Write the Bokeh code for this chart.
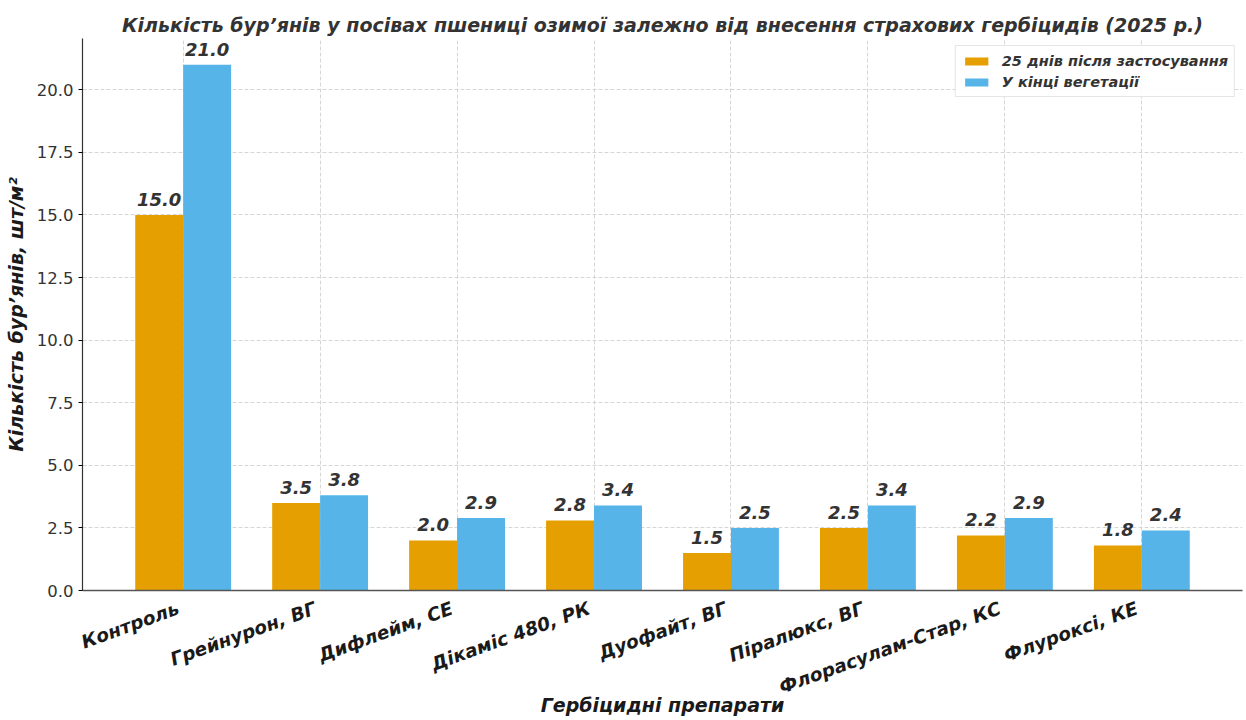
from bokeh.plotting import figure
from bokeh.models import ColumnDataSource, Range1d, FixedTicker, Legend, LegendItem, LabelSet
from bokeh.embed import file_html
from bokeh.resources import INLINE
from bokeh.core.properties import value

categories = ["Контроль", "Грейнурон, ВГ", "Дифлейм, СЕ", "Дікаміс 480, РК",
              "Дуофайт, ВГ", "Піралюкс, ВГ", "Флорасулам-Стар, КС", "Флуроксі, КЕ"]
after_25_days = [15.0, 3.5, 2.0, 2.8, 1.5, 2.5, 2.2, 1.8]
end_of_vegetation = [21.0, 3.8, 2.9, 3.4, 2.5, 3.4, 2.9, 2.4]
series_names = ["25 днів після застосування", "У кінці вегетації"]
y_ticks = [0, 2.5, 5, 7.5, 10, 12.5, 15, 17.5, 20]

FONT = "DejaVu Sans"
W = 0.35
idx = list(range(len(categories)))

src1 = ColumnDataSource(dict(x=[i - W / 2 for i in idx], top=after_25_days,
                             lab=[f"{v:.1f}" for v in after_25_days]))
src2 = ColumnDataSource(dict(x=[i + W / 2 for i in idx], top=end_of_vegetation,
                             lab=[f"{v:.1f}" for v in end_of_vegetation]))

p = figure(width=1246, height=720, output_backend="svg", toolbar_location=None,
           x_range=Range1d(-0.735, 7.735), y_range=Range1d(0, 22.05),
           min_border_left=82, min_border_right=4, min_border_top=38, min_border_bottom=130)

p.title.text = "Кількість бур’янів у посівах пшениці озимої залежно від внесення страхових гербіцидів (2025 р.)"
p.title.text_font = FONT
p.title.text_font_size = "19px"
p.title.text_font_style = "bold italic"
p.title.text_color = "#333333"
p.title.align = "center"
p.title.standoff = 6

r1 = p.vbar(x="x", top="top", width=W, source=src1, fill_color="#E69F00", line_color=None)
r2 = p.vbar(x="x", top="top", width=W, source=src2, fill_color="#56B4E9", line_color=None)

for s in (src1, src2):
    p.add_layout(LabelSet(x="x", y="top", text="lab", source=s, text_align="center",
                          text_baseline="bottom", y_offset=9, text_font=value(FONT),
                          text_font_size="18px", text_font_style="bold italic",
                          text_color="#333333"))

# label anchors shifted slightly left so the rotated text ends at the group centre
label_pos = [round(i - 0.035, 3) for i in idx]
p.xaxis.ticker = FixedTicker(ticks=label_pos)
p.xaxis.major_label_overrides = {pos: c for pos, c in zip(label_pos, categories)}
p.xaxis.major_label_orientation = 0.349
p.xaxis.major_label_standoff = 11
p.xaxis.major_label_text_font = FONT
p.xaxis.major_label_text_font_size = "18.5px"
p.xaxis.major_label_text_font_style = "bold italic"
p.xaxis.major_label_text_color = "#1a1a1a"
p.xaxis.axis_label = "Гербіцидні препарати"
p.xaxis.axis_label_text_font = FONT
p.xaxis.axis_label_text_font_size = "19px"
p.xaxis.axis_label_text_font_style = "bold italic"
p.xaxis.axis_label_text_color = "#1a1a1a"
p.xaxis.axis_label_standoff = -16
p.xaxis.major_tick_line_color = None
p.xaxis.minor_tick_line_color = None
p.xaxis.axis_line_color = "#555555"
p.xaxis.axis_line_width = 1.5

p.yaxis.ticker = FixedTicker(ticks=y_ticks)
p.yaxis.major_label_overrides = {t: f"{t:.1f}" for t in y_ticks}
p.yaxis.major_label_text_font = FONT
p.yaxis.major_label_text_font_size = "16.5px"
p.yaxis.major_label_text_color = "#333333"
p.yaxis.axis_label = "Кількість бур’янів, шт/м²"
p.yaxis.axis_label_text_font = FONT
p.yaxis.axis_label_text_font_size = "19px"
p.yaxis.axis_label_text_font_style = "bold italic"
p.yaxis.axis_label_text_color = "#1a1a1a"
p.yaxis.axis_label_standoff = 7
p.yaxis.major_tick_in = 0
p.yaxis.major_tick_out = 4
p.yaxis.minor_tick_line_color = None
p.yaxis.axis_line_color = "#333333"
p.yaxis.axis_line_width = 1.2

p.outline_line_color = None
for g in (p.xgrid, p.ygrid):
    g.grid_line_color = "#cccccc"
    g.grid_line_dash = "4 2"
    g.grid_line_width = 0.8
p.xgrid.ticker = FixedTicker(ticks=idx)
p.ygrid.ticker = FixedTicker(ticks=y_ticks)

legend = Legend(items=[LegendItem(label=series_names[0], renderers=[r1]),
                       LegendItem(label=series_names[1], renderers=[r2])],
                location="top_right")
legend.label_text_font = FONT
legend.label_text_font_size = "14.5px"
legend.label_text_font_style = "bold italic"
legend.label_text_color = "#333333"
legend.glyph_width = 29
legend.glyph_height = 10
legend.label_height = 17
legend.label_standoff = 11
legend.spacing = 4
legend.padding = 6
legend.margin = 7
legend.border_line_color = "#cccccc"
legend.border_line_width = 1
legend.background_fill_alpha = 0.9
p.add_layout(legend)

open("out.html", "w").write(file_html(p, INLINE))
